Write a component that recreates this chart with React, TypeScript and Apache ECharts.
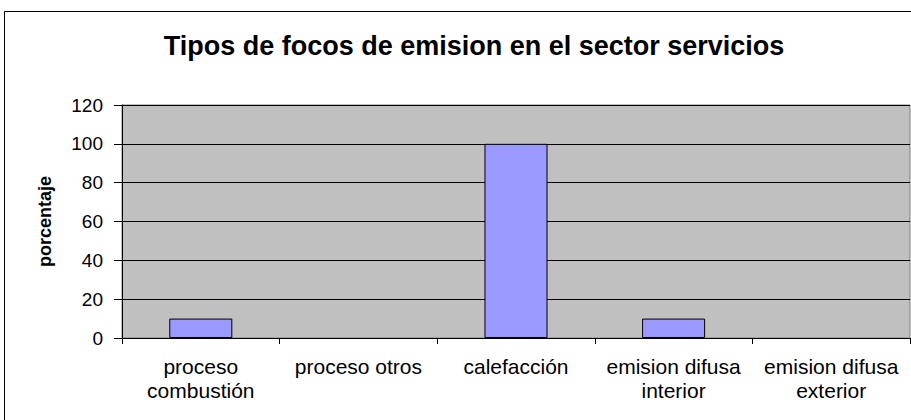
import React, { useEffect, useRef } from "react";
import * as echarts from "echarts";

const titleText = "Tipos de focos de emision en el sector servicios";
const categories = [
  "proceso\ncombustión",
  "proceso otros",
  "calefacción",
  "emision difusa\ninterior",
  "emision difusa\nexterior",
];
const values = [10, 0, 100, 10, 0];
const yAxisName = "porcentaje";
const yMin = 0;
const yMax = 120;
const yInterval = 20;

export default function App() {
  const ref = useRef<HTMLDivElement>(null);
  useEffect(() => {
    if (!ref.current) return;
    const chart = echarts.init(ref.current, undefined, { renderer: "svg" });
    const font = "Arial, 'Liberation Sans', sans-serif";
    chart.setOption({
      animation: false,
      backgroundColor: "#ffffff",
      title: {
        text: titleText,
        left: 469,
        top: 27,
        textAlign: "center",
        textStyle: { fontFamily: font, fontSize: 27, fontWeight: "bold", color: "#000" },
      },
      graphic: [
        {
          type: "rect",
          shape: { x: 4.5, y: 11.5, width: 1000, height: 1000 },
          style: { fill: "none", stroke: "#000", lineWidth: 1 },
          silent: true,
          z: 100,
        },
      ],
      grid: {
        left: 122,
        top: 105,
        right: 1,
        bottom: 82,
        show: true,
        backgroundColor: "#C0C0C0",
        borderColor: "#808080",
        borderWidth: 1,
      },
      xAxis: {
        type: "category",
        data: categories,
        axisLine: { show: true, lineStyle: { color: "#000", width: 1 } },
        axisTick: { show: true, alignWithLabel: false, length: 6, lineStyle: { color: "#000" } },
        axisLabel: {
          fontFamily: font,
          fontSize: 21,
          lineHeight: 24,
          color: "#000",
          margin: 16,
          interval: 0,
        },
      },
      yAxis: {
        type: "value",
        min: yMin,
        max: yMax,
        interval: yInterval,
        name: yAxisName,
        nameLocation: "middle",
        nameGap: 68,
        nameRotate: 90,
        nameTextStyle: { fontFamily: font, fontSize: 18, fontWeight: "bold", color: "#000" },
        axisLine: { show: true, lineStyle: { color: "#000", width: 1 } },
        axisTick: { show: true, length: 8, lineStyle: { color: "#000" } },
        axisLabel: { fontFamily: font, fontSize: 19, color: "#000", margin: 19 },
        splitLine: { show: true, lineStyle: { color: "#000", width: 1 } },
      },
      series: [
        {
          type: "bar",
          data: values.map((v) =>
            v === 0 ? { value: v, itemStyle: { borderWidth: 0, opacity: 0 } } : v
          ),
          barWidth: "40%",
          itemStyle: { color: "#9999FF", borderColor: "#000", borderWidth: 1 },
        },
      ],
    });
    return () => chart.dispose();
  }, []);
  return (
    <div
      ref={ref}
      style={{ position: "absolute", left: 0, top: 0, width: 911, height: 420 }}
    />
  );
}
